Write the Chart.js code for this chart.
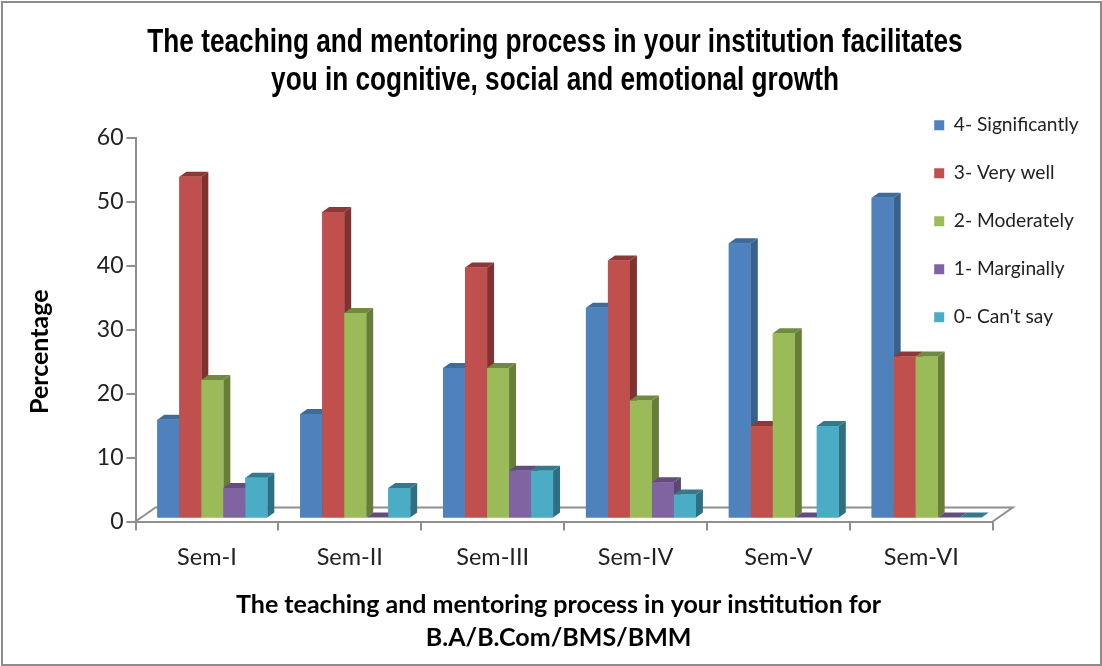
<!DOCTYPE html>
<html>
<head>
<meta charset="utf-8">
<title>Teaching and mentoring</title>
<script src="https://cdn.jsdelivr.net/npm/chart.js@4"></script>
<style>
    html, body { margin: 0; padding: 0; background: #fff; }
    #wrap { position: absolute; left: 0; top: 0; width: 1102px; height: 666px; }
</style>
</head>
<body>
<div id="wrap"><canvas id="chart" width="1102" height="666"></canvas></div>
<script>
"use strict";

const semesters = ['Sem-I', 'Sem-II', 'Sem-III', 'Sem-IV', 'Sem-V', 'Sem-VI'];
const significantly = [15.3, 16.2, 23.4, 32.8, 42.9, 50.0];
const veryWell = [53.3, 47.8, 39.1, 40.2, 14.3, 25.2];
const moderately = [21.5, 32.0, 23.4, 18.3, 28.8, 25.2];
const marginally = [4.6, 0, 7.3, 5.5, 0, 0];
const cantSay = [6.2, 4.6, 7.3, 3.6, 14.3, 0];
const yTicks = [0, 10, 20, 30, 40, 50, 60];

const DEPTH_X = 7;
const DEPTH_Y = 5;
const FLOOR_X = 20;
const FLOOR_Y = 14;
const AXIS_COLOR = '#8f8f8f';
const TITLE_SQUEEZE = 0.794;

// hidden bar axes sit a little behind the visible front axes
const BAR_SHIFT_X = 5.4 / 143;
const BAR_SHIFT_Y = 4 / 6.38;

function points(values) {
    return values.map((v, i) => ({ x: i, y: v }));
}

function series(label, values, front) {
    return {
        label: label,
        data: points(values),
        backgroundColor: front,
        xAxisID: 'barsX',
        yAxisID: 'barsY',
        categoryPercentage: 0.77,
        barPercentage: 1
    };
}

const sideColors = ['#386089', '#7f3330', '#677d3a', '#5a4673', '#2f6f82'];
const topColors = ['#3f6b99', '#8c3836', '#718a41', '#624d7e', '#35798e'];

function face(ctx, color, pts) {
    ctx.fillStyle = color;
    ctx.beginPath();
    pts.forEach((p, i) => i ? ctx.lineTo(p[0], p[1]) : ctx.moveTo(p[0], p[1]));
    ctx.closePath();
    ctx.fill();
}

// axis titles are centred on their scale, the original has them off centre
function nudgeAxisTitle(scale, side, amount) {
    const drawTitle = scale.drawTitle;
    scale.drawTitle = function () {
        scale[side] += amount;
        drawTitle.call(scale);
        scale[side] -= amount;
    };
}

const floorAnd3d = {
    id: 'floorAnd3d',
    afterLayout(chart) {
        // the layout boxes need a nudge to land where the original has them
        const title = chart.titleBlock;
        const drawTitle = title.draw;
        title.left = 8;
        title.draw = function () {
            // no narrow font installed, so squeeze the title around its centre
            const ctx = chart.ctx;
            ctx.save();
            ctx.translate(555, 0);
            ctx.scale(TITLE_SQUEEZE, 1);
            ctx.translate(-555, 0);
            drawTitle.call(title, chart.chartArea);
            ctx.restore();
        };
        nudgeAxisTitle(chart.scales.x, 'right', -11);
        nudgeAxisTitle(chart.scales.y, 'top', 44);
        chart.legend.left = 905.4;
        chart.legend.right = 1102;
        chart.legend.top = 86.8;
    },
    beforeDatasetsDraw(chart) {
        const { ctx, chartArea: a } = chart;
        ctx.save();
        ctx.strokeStyle = AXIS_COLOR;
        ctx.lineWidth = 2;
        ctx.beginPath();
        ctx.moveTo(a.left, a.bottom);
        ctx.lineTo(a.left + FLOOR_X, a.bottom - FLOOR_Y);
        ctx.lineTo(a.right + FLOOR_X, a.bottom - FLOOR_Y);
        ctx.lineTo(a.right, a.bottom);
        ctx.stroke();
        ctx.restore();
    },
    afterDatasetsDraw(chart) {
        const { ctx } = chart;
        const metas = chart.data.datasets.map((d, i) => chart.getDatasetMeta(i));
        // repaint left to right so each front covers the side of its neighbour
        semesters.forEach((s, c) => {
            metas.forEach((meta, d) => {
                const bar = meta.data[c];
                const l = bar.x - bar.width / 2;
                const r = bar.x + bar.width / 2;
                const t = bar.y;
                const b = bar.base;
                if (b - t > 0) {
                    face(ctx, sideColors[d], [[r, t], [r + DEPTH_X, t - DEPTH_Y], [r + DEPTH_X, b - DEPTH_Y], [r, b]]);
                }
                face(ctx, topColors[d], [[l, t], [l + DEPTH_X, t - DEPTH_Y], [r + DEPTH_X, t - DEPTH_Y], [r, t]]);
                bar.draw(ctx);
            });
        });
    },
    afterDraw(chart) {
        const { ctx } = chart;
        ctx.save();
        ctx.strokeStyle = '#8c8c8c';
        ctx.lineWidth = 2;
        ctx.strokeRect(2, 2, 1099, 663);
        ctx.restore();
    }
};

new Chart(document.getElementById('chart').getContext('2d'), {
    type: 'bar',
    plugins: [floorAnd3d],
    data: {
        labels: semesters,
        datasets: [
            series('4- Significantly', significantly, '#4f81bd'),
            series('3- Very well', veryWell, '#c0504d'),
            series('2- Moderately', moderately, '#9bbb59'),
            series('1- Marginally', marginally, '#8064a2'),
            series("0- Can't say", cantSay, '#4bacc6')
        ]
    },
    options: {
        responsive: false,
        animation: false,
        layout: { padding: { left: 20, right: 0, top: 24, bottom: 11.5 } },
        scales: {
            x: {
                type: 'category',
                offset: true,
                afterFit(scale) { scale.height = 133; },
                grid: { offset: true, drawOnChartArea: false, color: AXIS_COLOR, lineWidth: 2, tickLength: 9 },
                border: { color: AXIS_COLOR, width: 2 },
                ticks: { color: '#222', font: { family: 'Lato', size: 23.5 }, padding: 13, maxRotation: 0 },
                title: {
                    display: true,
                    text: ['The teaching and mentoring process in your institution for', 'B.A/B.Com/BMS/BMM'],
                    color: '#000',
                    font: { family: 'Lato', size: 25, weight: 'bold', lineHeight: 1.32 },
                    padding: { top: 10, bottom: 0 }
                }
            },
            y: {
                type: 'linear',
                position: 'left',
                min: 0,
                max: 60,
                afterFit(scale) { scale.width = 115.5; },
                afterBuildTicks(scale) {
                    scale.ticks = yTicks.map(v => ({ value: v }));
                },
                grid: { drawOnChartArea: false, color: AXIS_COLOR, lineWidth: 2, tickLength: 9 },
                border: { color: AXIS_COLOR, width: 2 },
                ticks: { color: '#222', font: { family: 'Lato', size: 23 }, padding: 3 },
                title: {
                    display: true,
                    text: 'Percentage',
                    color: '#000',
                    font: { family: 'Lato', size: 25, weight: 'bold' },
                    padding: { top: 5, bottom: 0 }
                }
            },
            barsX: {
                type: 'linear',
                display: false,
                offset: false,
                min: -0.5 - BAR_SHIFT_X,
                max: 5.5 - BAR_SHIFT_X
            },
            barsY: {
                type: 'linear',
                display: false,
                min: -BAR_SHIFT_Y,
                max: 60 - BAR_SHIFT_Y
            }
        },
        plugins: {
            tooltip: { enabled: false },
            title: {
                display: true,
                text: [
                    'The teaching and mentoring process in your institution facilitates',
                    'you in cognitive, social and emotional growth'
                ],
                color: '#000',
                font: { family: 'Liberation Sans', size: 33, weight: 'bold', lineHeight: 1.15 },
                padding: { top: 0, bottom: 38 }
            },
            legend: {
                position: 'right',
                align: 'start',
                maxWidth: 109.3,
                labels: {
                    color: '#222',
                    font: { family: 'Lato', size: 19.2 },
                    boxWidth: 10,
                    boxHeight: 10,
                    padding: 28.8
                }
            }
        }
    }
});
</script>
</body>
</html>
